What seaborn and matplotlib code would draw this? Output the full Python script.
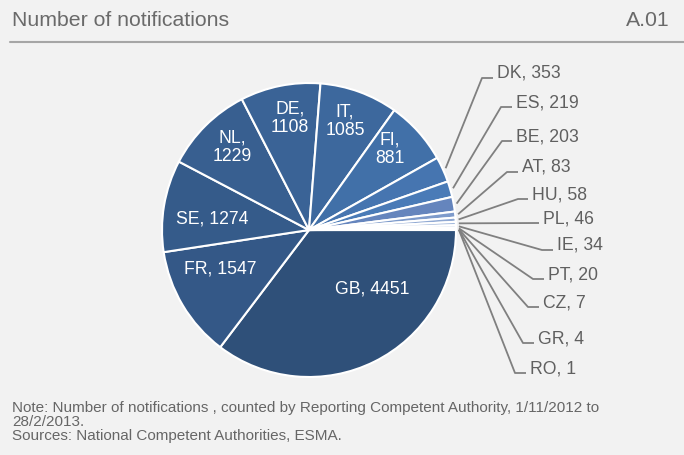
import matplotlib
matplotlib.use("Agg")
import matplotlib.pyplot as plt
import seaborn as sns
import numpy as np

sns.set_theme(style="white")
plt.rcParams['font.family'] = ['Liberation Sans', 'DejaVu Sans']

# data
countries = ['GB', 'FR', 'SE', 'NL', 'DE', 'IT', 'FI', 'DK', 'ES', 'BE',
             'AT', 'HU', 'PL', 'IE', 'PT', 'CZ', 'GR', 'RO']
notifications = [4451, 1547, 1274, 1229, 1108, 1085, 881, 353, 219, 203,
                 83, 58, 46, 34, 20, 7, 4, 1]
slice_colors = ['#2f5079', '#345887', '#355b8a', '#385f90', '#3a6396', '#3d689d',
                '#4170a8', '#4675b0', '#4a7bb7', '#6585bd', '#7e9bcb', '#90a9d3',
                '#a3b9dc', '#b6c8e4', '#c9d6eb', '#dce4f2', '#ecf0f8', '#ffffff']

W, H = 684, 455
CX, CY, R = 309, 230, 147   # pie centre / radius in pixels
BG = '#f2f2f2'
GREY = '#606060'


def px(x, y):
    # pixel position -> pie data units
    return (x - CX) / R, (CY - y) / R


# label layout (pixels)
inside_pos = {'GB': (372, 289), 'FR': (220, 269), 'SE': (212, 219), 'NL': (232, 147),
              'DE': (290, 118), 'IT': (345, 121), 'FI': (390, 149)}
two_line = ['NL', 'DE', 'IT', 'FI']
# elbow x, end x, line y
outside_pos = {'DK': (482, 493, 78), 'ES': (501, 512, 107), 'BE': (502, 512, 141),
               'AT': (507, 518, 172), 'HU': (518, 528, 199), 'PL': (None, 539, 223),
               'IE': (542, 553, 250), 'PT': (533, 544, 279), 'CZ': (528, 539, 307),
               'GR': (523, 534, 343), 'RO': (515, 526, 373)}

fig = plt.figure(figsize=(W / 100, H / 100), dpi=100, facecolor=BG)
ax = fig.add_axes([0, 0, 1, 1])
ax.set_facecolor(BG)

wedges, _ = ax.pie(notifications, colors=slice_colors, startangle=0, counterclock=False,
                   radius=1, wedgeprops=dict(edgecolor='white', linewidth=1.5))

for w, c, v in zip(wedges, countries, notifications):
    if c in inside_pos:
        sep = ',\n' if c in two_line else ', '
        x, y = px(*inside_pos[c])
        ax.text(x, y, f'{c}{sep}{v}', color='white', fontsize=12.7,
                ha='center', va='center', linespacing=1.1)
    else:
        ang = np.deg2rad((w.theta1 + w.theta2) / 2)
        sx, sy = 1.02 * np.cos(ang), 1.02 * np.sin(ang)
        ex, endx, ly = outside_pos[c]
        _, yl = px(0, ly)
        xe = px(endx, 0)[0]
        if ex is None:
            xs, ys = [sx, xe], [sy, yl]
        else:
            xel = px(ex, 0)[0]
            xs, ys = [sx, xel, xe], [sy, yl, yl]
        ax.plot(xs, ys, color='#808080', linewidth=1.3, solid_capstyle='butt')
        ax.text(px(endx + 4, 0)[0], yl, f'{c}, {v}', color=GREY, fontsize=12.7,
                ha='left', va='baseline')

ax.set_xlim(px(0, 0)[0], px(W, 0)[0])
ax.set_ylim(px(0, H)[1], px(0, 0)[1])
ax.set_aspect('auto')
ax.axis('off')

# title bar
fig.text(12 / W, 1 - 20 / H, 'Number of notifications', fontsize=15.3,
         color='#6a6a6a', ha='left', va='center')
fig.text(670 / W, 1 - 20 / H, 'A.01', fontsize=15.3,
         color='#6a6a6a', ha='right', va='center')
fig.add_artist(plt.Line2D([10 / W, 1], [1 - 42 / H] * 2, color='#a6a6a6', linewidth=1.5))

fig.text(12 / W, 1 - 401 / H,
         'Note: Number of notifications , counted by Reporting Competent Authority, 1/11/2012 to\n'
         '28/2/2013.\nSources: National Competent Authorities, ESMA.',
         fontsize=11, color='#666666', ha='left', va='top', linespacing=1.0)

fig.savefig('out.png', dpi=100, facecolor=BG)
